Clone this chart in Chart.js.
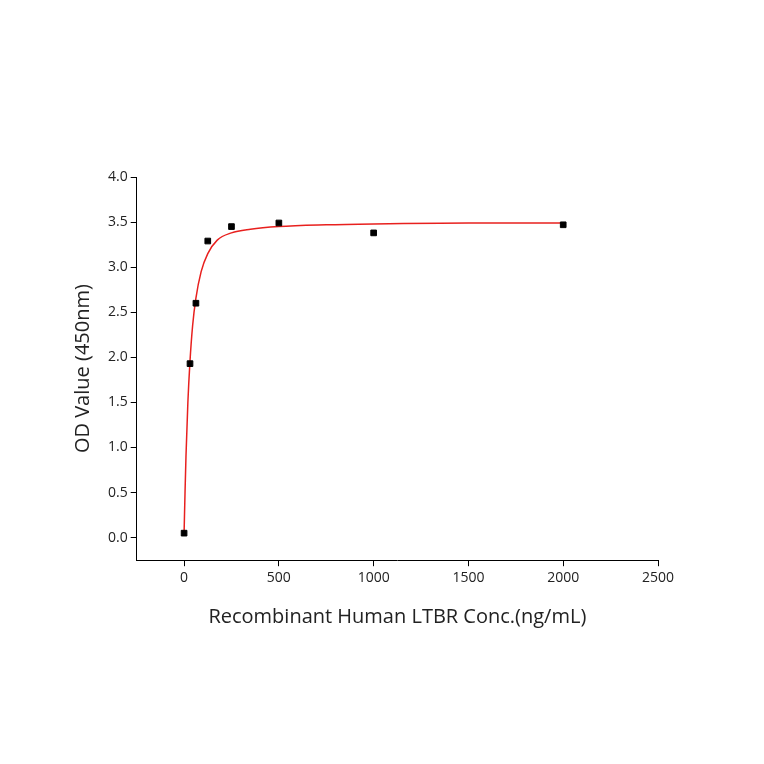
<!DOCTYPE html>
<html><head><meta charset="utf-8">
<script src="https://cdn.jsdelivr.net/npm/chart.js@4"></script>
<style>body{margin:0;background:#fff}#wrap{width:764px;height:764px}</style>
</head><body><div id="wrap"><canvas id="c"></canvas></div>
<script>
const concX = [0, 31.25, 62.5, 125, 250, 500, 1000, 2000];
const odY = [0.05, 1.93, 2.6, 3.29, 3.45, 3.49, 3.38, 3.47];
const fitX = [0, 5, 10, 20, 31, 45, 62, 90, 125, 175, 250, 350, 500, 750, 1000, 1500, 2000];
const fitY = [0.05, 0.5, 0.9, 1.5, 1.95, 2.35, 2.65, 2.95, 3.15, 3.3, 3.38, 3.42, 3.45, 3.47, 3.48, 3.49, 3.49];

const font = {family: "'Open Sans', 'Noto Sans', sans-serif"};

new Chart(document.getElementById("c"), {
    type: "scatter",
    data: {
        datasets: [
            {
                data: concX.map((x, i) => ({x: x, y: odY[i]})),
                pointStyle: "rect", pointRadius: 4, backgroundColor: "#000", borderColor: "#000"
            },
            {
                type: "line",
                data: fitX.map((x, i) => ({x: x, y: fitY[i]})),
                borderColor: "#e8201e", borderWidth: 1.5, pointRadius: 0,
                cubicInterpolationMode: "monotone", fill: false
            }
        ]
    },
    options: {
        responsive: true, maintainAspectRatio: false, animation: false,
        layout: {padding: {left: 67, right: 106, top: 177, bottom: 131}},
        plugins: {legend: {display: false}, tooltip: {enabled: false}},
        scales: {
            x: {
                type: "linear", min: -250, max: 2500,
                afterBuildTicks: s => { s.ticks = [0, 500, 1000, 1500, 2000, 2500].map(v => ({value: v})); },
                grid: {drawOnChartArea: false, tickLength: 6, color: "#000"},
                border: {color: "#000", width: 1},
                ticks: {color: "#222", font: {...font, size: 14}, callback: v => String(v)},
                title: {display: true, text: "Recombinant Human LTBR Conc.(ng/mL)", color: "#222", font: {...font, size: 20}, padding: {top: 16}}
            },
            y: {
                min: -0.25, max: 4.0,
                afterBuildTicks: s => { s.ticks = [0,0.5,1,1.5,2,2.5,3,3.5,4].map(v => ({value: v})); },
                grid: {drawOnChartArea: false, tickLength: 6, color: "#000"},
                border: {color: "#000", width: 1},
                ticks: {color: "#222", font: {...font, size: 14}, callback: v => v.toFixed(1)},
                title: {display: true, text: "OD Value (450nm)", color: "#222", font: {...font, size: 20}, padding: {bottom: 10}}
            }
        }
    }
});
</script></body></html>
